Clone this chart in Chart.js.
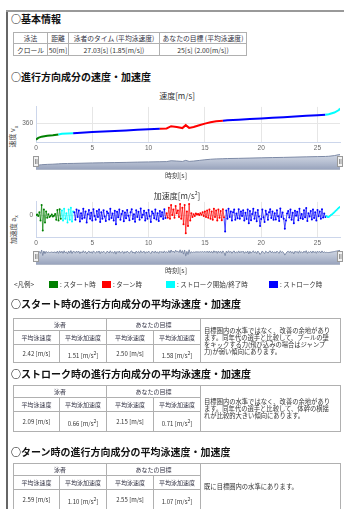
<!DOCTYPE html>
<html lang="ja">
<head>
<meta charset="utf-8">
<script src="https://cdn.jsdelivr.net/npm/chart.js@4.4.1/dist/chart.umd.min.js"></script>
<style>
body { margin:0; width:344px; height:509px; overflow:hidden; background:#fff; position:relative;
       font-family:"Noto Sans CJK JP", sans-serif; color:#222; }
.abs { position:absolute; }
#frameLeft { left:6px; top:10px; width:2px; height:499px; background:#666; }
#frameTop { left:6px; top:10px; width:338px; height:2px; background:#999; }
h2 { position:absolute; margin:0; left:11px; font-size:10px; line-height:12px; font-weight:bold; white-space:nowrap; color:#111; }
table { position:absolute; border-collapse:collapse; table-layout:fixed; }
td { border:1px solid #b0b0b0; padding:0; text-align:center; white-space:nowrap; overflow:hidden; font-size:6px; line-height:7px; color:#333; }
td.hd { color:#334; }
table.basic td { font-size:6.8px; line-height:8px; }
td.note { text-align:left; vertical-align:middle; padding-left:3px; white-space:normal; font-size:6.3px; line-height:7px; }
.ctitle { position:absolute; width:200px; text-align:center; font-size:8px; line-height:9px; color:#333; }
.xlabel { position:absolute; width:100px; text-align:center; font-size:7px; line-height:8px; color:#444; }
.ytitle { position:absolute; font-size:7px; line-height:8px; color:#444; transform:rotate(-90deg); transform-origin:center; white-space:nowrap; }
.ytitle sub { font-size:5px; }
canvas { position:absolute; }
#legend { position:absolute; left:0; top:280px; width:344px; height:10px; font-size:6.5px; line-height:8px; color:#333; }
#legend span { position:absolute; white-space:nowrap; }
#legend i { position:absolute; width:9px; height:7px; top:1px; }
</style>
</head>
<body>
<div id="frameLeft" class="abs"></div>
<div id="frameTop" class="abs"></div>

<h2 style="top:13px;">○基本情報</h2>
<table class="basic" style="left:13px; top:32px; width:233px;">
  <colgroup><col style="width:34px"><col style="width:21px"><col style="width:91px"><col style="width:87px"></colgroup>
  <tr style="height:11px;"><td class="hd">泳法</td><td class="hd">距離</td><td class="hd">泳者のタイム (平均泳速度)</td><td class="hd">あなたの目標 (平均泳速度)</td></tr>
  <tr style="height:12px;"><td>クロール</td><td>50[m]</td><td>27.03[s] (1.85[m/s])</td><td>25[s] (2.00[m/s])</td></tr>
</table>

<h2 style="top:71px;">○進行方向成分の速度・加速度</h2>

<div class="ctitle" style="left:77px; top:91px;">速度[m/s]</div>
<div class="ytitle" style="left:3px; top:131px;">速度 v<sub>x</sub></div>
<canvas id="velChart" width="336" height="52" style="left:8px; top:100px;"></canvas>
<canvas id="velNav" width="316" height="20" style="left:28px; top:152px;"></canvas>
<div class="xlabel" style="left:126px; top:171px;">時刻[s]</div>

<div class="ctitle" style="left:77px; top:188px;">加速度[m/s<sup style="font-size:5px">2</sup>]</div>
<div class="ytitle" style="left:0px; top:224px;">加速度 a<sub>x</sub></div>
<canvas id="accChart" width="336" height="52" style="left:8px; top:195px;"></canvas>
<canvas id="accNav" width="316" height="20" style="left:28px; top:247px;"></canvas>
<div class="xlabel" style="left:126px; top:266px;">時刻[s]</div>

<div id="legend"></div>

<h2 style="top:298px;">○スタート時の進行方向成分の平均泳速度・加速度</h2>
<table style="left:13px; top:318px; width:327px;">
  <colgroup><col style="width:46px"><col style="width:47px"><col style="width:47px"><col style="width:47px"><col style="width:140px"></colgroup>
  <tr style="height:12px;"><td class="hd" colspan="2">泳者</td><td class="hd" colspan="2">あなたの目標</td>
    <td class="note" rowspan="3">目標圏内の水準ではなく、改善の余地があり<br>ます。同年代の選手と比較して、プールの壁<br>をキックする力(飛び込みの場合はジャンプ<br>力)が弱い傾向にあります。</td></tr>
  <tr style="height:14px;"><td class="hd">平均泳速度</td><td class="hd">平均泳加速度</td><td class="hd">平均泳速度</td><td class="hd">平均泳加速度</td></tr>
  <tr style="height:18px;"><td>2.42 [m/s]</td><td>1.51 [m/s<sup>2</sup>]</td><td>2.50 [m/s]</td><td>1.58 [m/s<sup>2</sup>]</td></tr>
</table>

<h2 style="top:368px;">○ストローク時の進行方向成分の平均泳速度・加速度</h2>
<table style="left:13px; top:385px; width:327px;">
  <colgroup><col style="width:46px"><col style="width:47px"><col style="width:47px"><col style="width:47px"><col style="width:140px"></colgroup>
  <tr style="height:12px;"><td class="hd" colspan="2">泳者</td><td class="hd" colspan="2">あなたの目標</td>
    <td class="note" rowspan="3">目標圏内の水準ではなく、改善の余地があり<br>ます。同年代の選手と比較して、体幹の横揺<br>れが比較的大きい傾向にあります。</td></tr>
  <tr style="height:14px;"><td class="hd">平均泳速度</td><td class="hd">平均泳加速度</td><td class="hd">平均泳速度</td><td class="hd">平均泳加速度</td></tr>
  <tr style="height:20px;"><td>2.09 [m/s]</td><td>0.66 [m/s<sup>2</sup>]</td><td>2.15 [m/s]</td><td>0.71 [m/s<sup>2</sup>]</td></tr>
</table>

<h2 style="top:446px;">○ターン時の進行方向成分の平均泳速度・加速度</h2>
<table style="left:13px; top:463px; width:327px;">
  <colgroup><col style="width:46px"><col style="width:47px"><col style="width:47px"><col style="width:47px"><col style="width:140px"></colgroup>
  <tr style="height:12px;"><td class="hd" colspan="2">泳者</td><td class="hd" colspan="2">あなたの目標</td>
    <td class="note" rowspan="3">既に目標圏内の水準にあります。</td></tr>
  <tr style="height:14px;"><td class="hd">平均泳速度</td><td class="hd">平均泳加速度</td><td class="hd">平均泳速度</td><td class="hd">平均泳加速度</td></tr>
  <tr style="height:20px;"><td>2.59 [m/s]</td><td>1.10 [m/s<sup>2</sup>]</td><td>2.55 [m/s]</td><td>1.07 [m/s<sup>2</sup>]</td></tr>
</table>

<script>
// time axis ticks
const xTicks = [0, 5, 10, 15, 20, 25];
const velTicks = [360];
const accTicks = [0];

// phase start times and colours (スタート / ストローク開始 / ストローク / ターン / ストローク / ストローク終了)
const phaseStart = [0, 2.3, 3.4, 11.6, 16.8, 25.8];
const phaseColor = ['#008000', '#00ffff', '#0000ff', '#ff0000', '#0000ff', '#00ffff'];

const legendLabels = ['スタート時', 'ターン時', 'ストローク開始/終了時', 'ストローク時'];
const legendColors = ['#008000', '#ff0000', '#00ffff', '#0000ff'];

// speed
const velTime = [0, 0.2, 0.5, 1.0, 1.5, 2.0, 2.3, 2.8, 3.3, 4, 5, 6, 7, 8, 9, 10, 11, 11.6,
    12.0, 12.5, 13.0, 13.3, 13.6, 14.0, 14.5, 15.0, 15.5, 16.0, 16.6,
    17, 18, 19, 20, 21, 22, 23, 24, 25, 25.7, 26.0, 26.5, 26.9, 27.0];
const velValue = [264, 274, 281, 286, 289, 294, 298, 300, 301, 304, 308, 311, 314, 317, 321, 324, 327, 329,
    342, 337, 331, 348, 332, 337, 347, 357, 365, 370, 373,
    376, 379, 383, 387, 391, 394, 398, 402, 406, 408, 411, 421, 436, 445];

// acceleration, sampled every 0.1 s
const ACC_STEP = 0.1;
const accStart = [0, 0.3, -0.5, 1.5, -3, 5.5, -8.5, 3, -4, 2, -1.5, 0.5, -1, -0.5, 0.3, -0.8, -0.4, 0.6, -2.5, 2.8, -3, 3.2, -2];
const accEdgeIn = [2.5, -3, 3.5, -2, 1, -4, 3, -2.5, 4, -3.5, 2];
const accStroke1 = [1.5, -2.5, 3, -1, 2.5, -3.5, 1, -2, 3.5, -1.5, 2, -4, 0.5, 2.8, -2, 1.2, -3, 3.2, -0.5, -2.5,
    2.2, -1, 3, -3.8, 1.5, -2, 2.6, -0.8, -3.2, 2, 1, -2.4, 3.4, -1.6, 0.8, -3, 2.4, -5, 1.8, -1.2,
    3, -2.6, 0.6, 2.2, -3.4, 1.4, -1.8, 2.8, -0.4, -2.8, 1.6, 3.2, -2.2, 0.4, -3.6, 2.6, -1, 1.8, -2.6, 3.6,
    -1.4, 0.2, 2.4, -3, 1.2, -2, 2.8, -0.6, -3.8, 2, 0.8, -1.8, 3, -2.4, 1, -3.2, 2.2, -0.8, 1.6, -2.2,
    3.2, -1.6];
const accTurn = [1, -1.5, 4, -2, 5.5, 0, 3, -1.5, 5, 1, 2.5, -1, 6, -2, 4, -5, 5.5, -10, 2, -6,
    6, -3, 1, -1, 0.5, -0.5, 0.8, 0.3, 0.6, 0, 1, 0.2, 1.5, -0.5, 2, -1, 2.5, -1.5, 3, -2,
    2, -2.5, 3.5, -1, 2.5, -3, 3, -1.5, 2.2, -2.8, 3.2, -1.2];
const accStroke2 = [-9, 2.5, -2, 3.5, -1, 2, -3, 1.5, 3, -2.5,
    0.8, -1.8, 3.2, -2, 2, -0.5, 2.6, -3, 1.2, -2.2,
    3, -4.5, 2.2, -2.8, 0.6, 3.4, -2, 1.4, -3.4, 2.8,
    -0.8, -6, -2.2, 3, -1.2, -3.8, 2.4, 0.4, -2.6, 1.6,
    3.2, -1.6, 2, -2.5, 1, -2.4, 2.6, -0.6, -3.2, 3.6,
    -1, 1.4, -2, -7.5, -3, 0.8, 2.2, -1.4, 3, -2.6,
    1.2, -4.5, 2.4, -0.4, 1.8, -2.8, 3.4, -1.8, 0.6, -2.2,
    2.6, -1.2, 3.8, -3.2, 1, -0.8, 2.2, -2.4, 3, -1.6,
    1.6, -3, 2.8, -0.6, 2, -2, 3.2, -1.4, 0.8, -1];
const accEdgeOut = [-0.5, -1, -1, -0.5, 0, 0.5, 1, 1.5, 2.2, 2.8, 3.4, 4, 4.4];

function colorAt(t) {
    let c = phaseColor[0];
    for (let i = 0; i < phaseStart.length; i++) {
        if (t >= phaseStart[i] - 1e-6) c = phaseColor[i];
    }
    return c;
}

const velPoints = velTime.map((t, i) => ({ x: t, y: velValue[i] }));
const accValue = [].concat(accStart, accEdgeIn, accStroke1, accTurn, accStroke2, accEdgeOut);
const accPoints = accValue.map((v, i) => ({ x: Math.round(i * ACC_STEP * 10) / 10, y: v }));

const tickFont = { family: 'Liberation Sans', size: 6.5 };

function mainChart(id, points, yMin, yMax, yTicks, lineWidth, pointRadius) {
    return new Chart(document.getElementById(id), {
        type: 'line',
        data: {
            datasets: [{
                data: points,
                borderWidth: lineWidth,
                pointRadius: pointRadius,
                pointBorderWidth: 0,
                pointBackgroundColor: ctx => colorAt(ctx.raw ? ctx.raw.x : 0),
                segment: { borderColor: ctx => colorAt(ctx.p1.parsed.x) },
                tension: 0
            }]
        },
        options: {
            responsive: false,
            animation: false,
            devicePixelRatio: 1,
            layout: { padding: { top: 3, right: 4 } },
            plugins: { legend: { display: false }, tooltip: { enabled: false } },
            scales: {
                x: {
                    type: 'linear', min: 0, max: 27,
                    afterBuildTicks: s => { s.ticks = xTicks.map(v => ({ value: v })); },
                    afterFit: s => { s.height = 10; },
                    grid: { color: '#e6e6e6', drawTicks: false },
                    border: { color: '#ccd6eb' },
                    ticks: { font: tickFont, color: '#666', padding: 2, maxRotation: 0 }
                },
                y: {
                    min: yMin, max: yMax,
                    afterBuildTicks: s => { s.ticks = yTicks.map(v => ({ value: v })); },
                    afterFit: s => { s.width = 28; },
                    grid: { color: '#e6e6e6', drawTicks: false },
                    border: { color: '#ccd6eb' },
                    ticks: { font: tickFont, color: '#666', padding: 3 }
                }
            }
        }
    });
}

const navHandles = {
    id: 'navHandles',
    afterDraw(chart) {
        const { ctx, chartArea: a } = chart;
        const cy = (a.top + a.bottom) / 2;
        ctx.save();
        ctx.strokeStyle = '#b0b8c8';
        ctx.lineWidth = 1;
        ctx.beginPath();
        ctx.moveTo(a.left, a.bottom + 0.5);
        ctx.lineTo(a.right, a.bottom + 0.5);
        ctx.stroke();
        [a.left, a.right].forEach(x => {
            ctx.fillStyle = '#f2f2f2';
            ctx.strokeStyle = '#999';
            ctx.fillRect(x - 2.5, cy - 5, 5, 10);
            ctx.strokeRect(x - 2.5, cy - 5, 5, 10);
            ctx.beginPath();
            ctx.moveTo(x - 0.5, cy - 2.5); ctx.lineTo(x - 0.5, cy + 2.5);
            ctx.moveTo(x + 1, cy - 2.5); ctx.lineTo(x + 1, cy + 2.5);
            ctx.stroke();
        });
        ctx.restore();
    }
};

function navChart(id, points, yMin, yMax) {
    const canvas = document.getElementById(id);
    const g = canvas.getContext('2d').createLinearGradient(0, 0, 0, canvas.height);
    g.addColorStop(0, 'rgba(170,182,206,0.45)');
    g.addColorStop(1, 'rgba(110,125,160,0.8)');
    return new Chart(canvas, {
        type: 'line',
        data: {
            datasets: [{
                data: points,
                borderColor: '#7d8aa6',
                borderWidth: 1,
                backgroundColor: g,
                fill: 'start',
                pointRadius: 0,
                tension: 0
            }]
        },
        options: {
            responsive: false,
            animation: false,
            devicePixelRatio: 1,
            layout: { padding: { left: 8, right: 4, top: 2, bottom: 3 } },
            plugins: { legend: { display: false }, tooltip: { enabled: false } },
            scales: {
                x: { type: 'linear', min: 0, max: 27, display: false },
                y: { min: yMin, max: yMax, display: false }
            }
        },
        plugins: [navHandles]
    });
}

mainChart('velChart', velPoints, 250, 454, velTicks, 2, 0);
navChart('velNav', velPoints, 215, 446);
mainChart('accChart', accPoints, -12, 7.2, accTicks, 0.7, 1);
navChart('accNav', accPoints, -30, 8);

// legend row
const legendLeft = [49, 102, 166, 269];
const legend = document.getElementById('legend');
legend.innerHTML = '<span style="left:14px;">&lt;凡例&gt;</span>' +
    legendLabels.map((label, i) =>
        '<i style="left:' + legendLeft[i] + 'px; background:' + legendColors[i] + ';"></i>' +
        '<span style="left:' + (legendLeft[i] + 11) + 'px;">: ' + label + '</span>'
    ).join('');
</script>
</body>
</html>
